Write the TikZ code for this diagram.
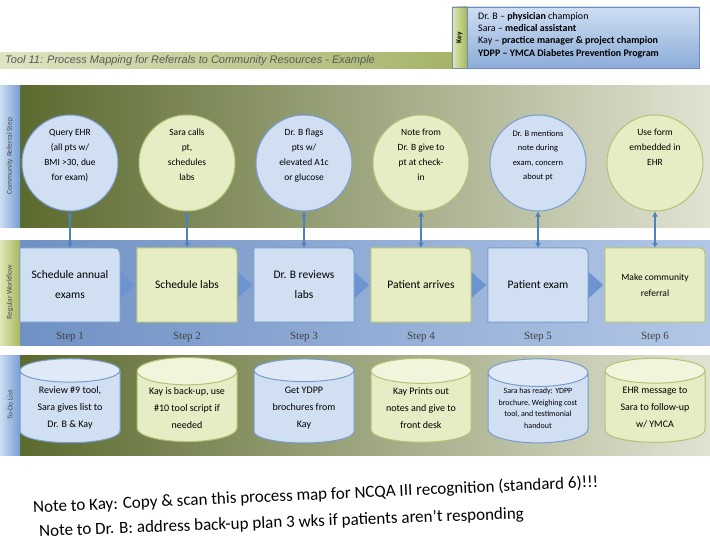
\documentclass[tikz,border=0pt]{standalone}
\usepackage{fontspec}
\setmainfont{Carlito}
\newfontfamily\titlefont{Liberation Sans}
\newfontfamily\stepfont{Liberation Serif}
\usetikzlibrary{shapes.geometric,arrows.meta,calc}

\definecolor{corBandOliveL}{RGB}{92,106,46}
\definecolor{corBandOliveR}{RGB}{224,227,210}
\definecolor{corBandBlueL}{RGB}{112,145,196}
\definecolor{corBandBlueR}{RGB}{178,199,230}
\definecolor{corStripBlue}{RGB}{118,158,214}
\definecolor{corStripBlueL}{RGB}{205,222,242}
\definecolor{corStripGreen}{RGB}{168,184,92}
\definecolor{corStripGreenL}{RGB}{224,231,184}
\definecolor{corFillBlue}{RGB}{208,223,242}
\definecolor{corLineBlue}{RGB}{120,156,206}
\definecolor{corFillGreen}{RGB}{230,236,196}
\definecolor{corLineGreen}{RGB}{180,194,118}
\definecolor{corEndBlue}{RGB}{224,234,247}
\definecolor{corEndGreen}{RGB}{241,245,220}
\definecolor{corArrow}{RGB}{79,129,189}
\definecolor{corChevron}{RGB}{108,148,208}
\definecolor{corTitleL}{RGB}{222,229,194}
\definecolor{corTitleR}{RGB}{165,180,105}
\definecolor{corKeyT}{RGB}{206,222,243}
\definecolor{corKeyB}{RGB}{140,172,216}
\definecolor{corKeyLine}{RGB}{110,140,185}

\pgfdeclarelayer{back}
\pgfdeclarelayer{mid}
\pgfsetlayers{back,mid,main}

\begin{document}
\begin{tikzpicture}[x=1pt, y=-1pt,
    refstep/.style={circle, minimum size=96pt, inner sep=0pt, line width=1pt, align=center,
      text depth=16pt, font=\fontsize{9.5}{15}\selectfont},
    refBlue/.style={refstep, fill=corFillBlue, draw=corLineBlue},
    refGreen/.style={refstep, fill=corFillGreen, draw=corLineGreen},
    workbox/.style={minimum width=100pt, minimum height=74pt, inner sep=0pt, align=center,
      font=\fontsize{11.5}{20}\selectfont},
    todo/.style={cylinder, shape border rotate=90, aspect=0.35, minimum width=100pt,
      minimum height=84pt, inner sep=1pt, line width=1pt, align=center,
      cylinder uses custom fill, font=\fontsize{10}{17}\selectfont},
    todoBlue/.style={todo, draw=corLineBlue, cylinder body fill=corFillBlue, cylinder end fill=corEndBlue},
    todoGreen/.style={todo, draw=corLineGreen, cylinder body fill=corFillGreen, cylinder end fill=corEndGreen},
    steplabel/.style={font=\stepfont\fontsize{11}{13}\selectfont, text=black!75},
    bandlabel/.style={rotate=90, font=\fontsize{7.5}{9}\selectfont, text=black!70},
    note/.style={anchor=west, inner sep=0pt, font=\fontsize{17}{19}\selectfont},
    link/.style={{Latex[length=5pt,width=6pt]}-{Latex[length=5pt,width=6pt]}, line width=1.5pt, draw=corArrow}
  ]
  \useasboundingbox (0,0) rectangle (710,543);

  \begin{pgfonlayer}{back}
    % title bar
    \shade[left color=corTitleL, right color=corTitleR] (0,53) rectangle (452,69);
    % community referral band
    \shade[left color=corBandOliveL, right color=corBandOliveR] (20,86) rectangle (710,227);
    \shade[left color=corStripBlueL, right color=corStripBlue] (0,86) rectangle (20,227);
    % regular workflow band
    \shade[left color=corBandBlueL, right color=corBandBlueR] (20,240) rectangle (710,345);
    \shade[left color=corStripGreenL, right color=corStripGreen] (0,240) rectangle (20,345);
    % to-do band
    \shade[left color=corBandOliveL, right color=corBandOliveR] (20,355) rectangle (710,455);
    \shade[left color=corStripBlueL, right color=corStripBlue] (0,355) rectangle (20,455);
  \end{pgfonlayer}

  % title
  \node[anchor=west, inner sep=0pt, text=black!65, font=\titlefont\itshape\fontsize{11}{13}\selectfont] (title) at (5,61)
    {Tool 11: Process Mapping for Referrals to Community Resources - Example};

  % key
  \shade[top color=corKeyT, bottom color=corKeyB, draw=corKeyLine] (452,7) rectangle (699,68);
  \shade[left color=corStripGreenL, right color=corStripGreen, draw=corKeyLine] (452,7) rectangle (467,68);
  \node[rotate=90, font=\bfseries\fontsize{7.5}{8}\selectfont] (keyTag) at (459.5,37.5) {Key};
  \node[anchor=north west, align=left, inner sep=0pt, font=\fontsize{10}{12.3}\selectfont] (keyText) at (478,12)
    {Dr. B -- \textbf{physician} champion\\
     Sara -- \textbf{medical assistant}\\
     Kay -- \textbf{practice manager \& project champion}\\
     \textbf{YDPP -- YMCA Diabetes Prevention Program}};

  % band labels
  \node[bandlabel] (bandRef) at (10,156) {Community Referral Step};
  \node[bandlabel] (bandWork) at (10,292) {Regular Workflow};
  \node[bandlabel] (bandTodo) at (10,405) {To-Do List};

  % community referral steps
  \node[refBlue] (ref1) at (70,163) {Query EHR\\(all pts w/\\BMI >30, due\\for exam)};
  \node[refGreen] (ref2) at (187,163) {Sara calls\\pt,\\schedules\\labs};
  \node[refBlue] (ref3) at (304,163) {Dr. B flags\\pts w/\\elevated A1c\\or glucose};
  \node[refGreen] (ref4) at (421,163) {Note from\\Dr. B give to\\pt at check-\\in};
  \node[refBlue, font=\fontsize{8.5}{14.5}\selectfont] (ref5) at (538,163) {Dr. B mentions\\note during\\exam, concern\\about pt};
  \node[refGreen, text depth=32pt] (ref6) at (655,163) {Use form\\embedded in\\EHR};

  % regular workflow
  \node[workbox] (work1) at (70,285) {Schedule annual\\exams};
  \node[workbox] (work2) at (187,285) {Schedule labs};
  \node[workbox] (work3) at (304,285) {Dr. B reviews\\labs};
  \node[workbox] (work4) at (421,285) {Patient arrives};
  \node[workbox] (work5) at (538,285) {Patient exam};
  \node[workbox, font=\fontsize{9.5}{16}\selectfont] (work6) at (655,285) {Make community\\referral};

  \begin{pgfonlayer}{mid}
    \foreach \i in {1,...,5}
      \fill[corChevron] ($(work\i.east)+(-3,-16)$) -- ($(work\i.east)+(15,0)$) -- ($(work\i.east)+(-3,16)$) -- cycle;
    \foreach \i/\c in {1/Blue,2/Green,3/Blue,4/Green,5/Blue,6/Green}
      \filldraw[fill=corFill\c, draw=corLine\c, line width=1pt] (work\i.south west) -- (work\i.north west)
        -- ($(work\i.north east)+(-14,0)$) .. controls (work\i.north east) .. ($(work\i.north east)+(0,14)$)
        -- (work\i.south east) -- cycle;
  \end{pgfonlayer}

  % steps
  \node[steplabel] (lab1) at (70,337) {Step 1};
  \node[steplabel] (lab2) at (187,337) {Step 2};
  \node[steplabel] (lab3) at (304,337) {Step 3};
  \node[steplabel] (lab4) at (421,337) {Step 4};
  \node[steplabel] (lab5) at (538,337) {Step 5};
  \node[steplabel] (lab6) at (655,337) {Step 6};

  \foreach \i in {1,...,6}
    \draw[link] (ref\i.south) -- (work\i.north);

  % to-do list
  \node[todoBlue] (todo1) at (70,408) {Review \#9 tool,\\Sara gives list to\\Dr. B \& Kay};
  \node[todoGreen] (todo2) at (187,408) {Kay is back-up, use\\\#10 tool script if\\needed};
  \node[todoBlue] (todo3) at (304,408) {Get YDPP\\brochures from\\Kay};
  \node[todoGreen] (todo4) at (421,408) {Kay Prints out\\notes and give to\\front desk};
  \node[todoBlue, inner sep=0pt, font=\fontsize{8}{11.5}\selectfont] (todo5) at (538,408) {Sara has ready: YDPP\\brochure, Weighing cost\\tool, and testimonial\\handout};
  \node[todoGreen] (todo6) at (655,408) {EHR message to\\Sara to follow-up\\w/ YMCA};

  % notes
  \node[note, rotate=2.6] (noteKay) at (33,508)
    {Note to Kay: Copy \& scan this process map for NCQA III recognition (standard 6)!!!};
  \node[note, rotate=2.1] (noteDrB) at (39,532)
    {Note to Dr. B: address back-up plan 3 wks if patients aren't responding};
\end{tikzpicture}
\end{document}
